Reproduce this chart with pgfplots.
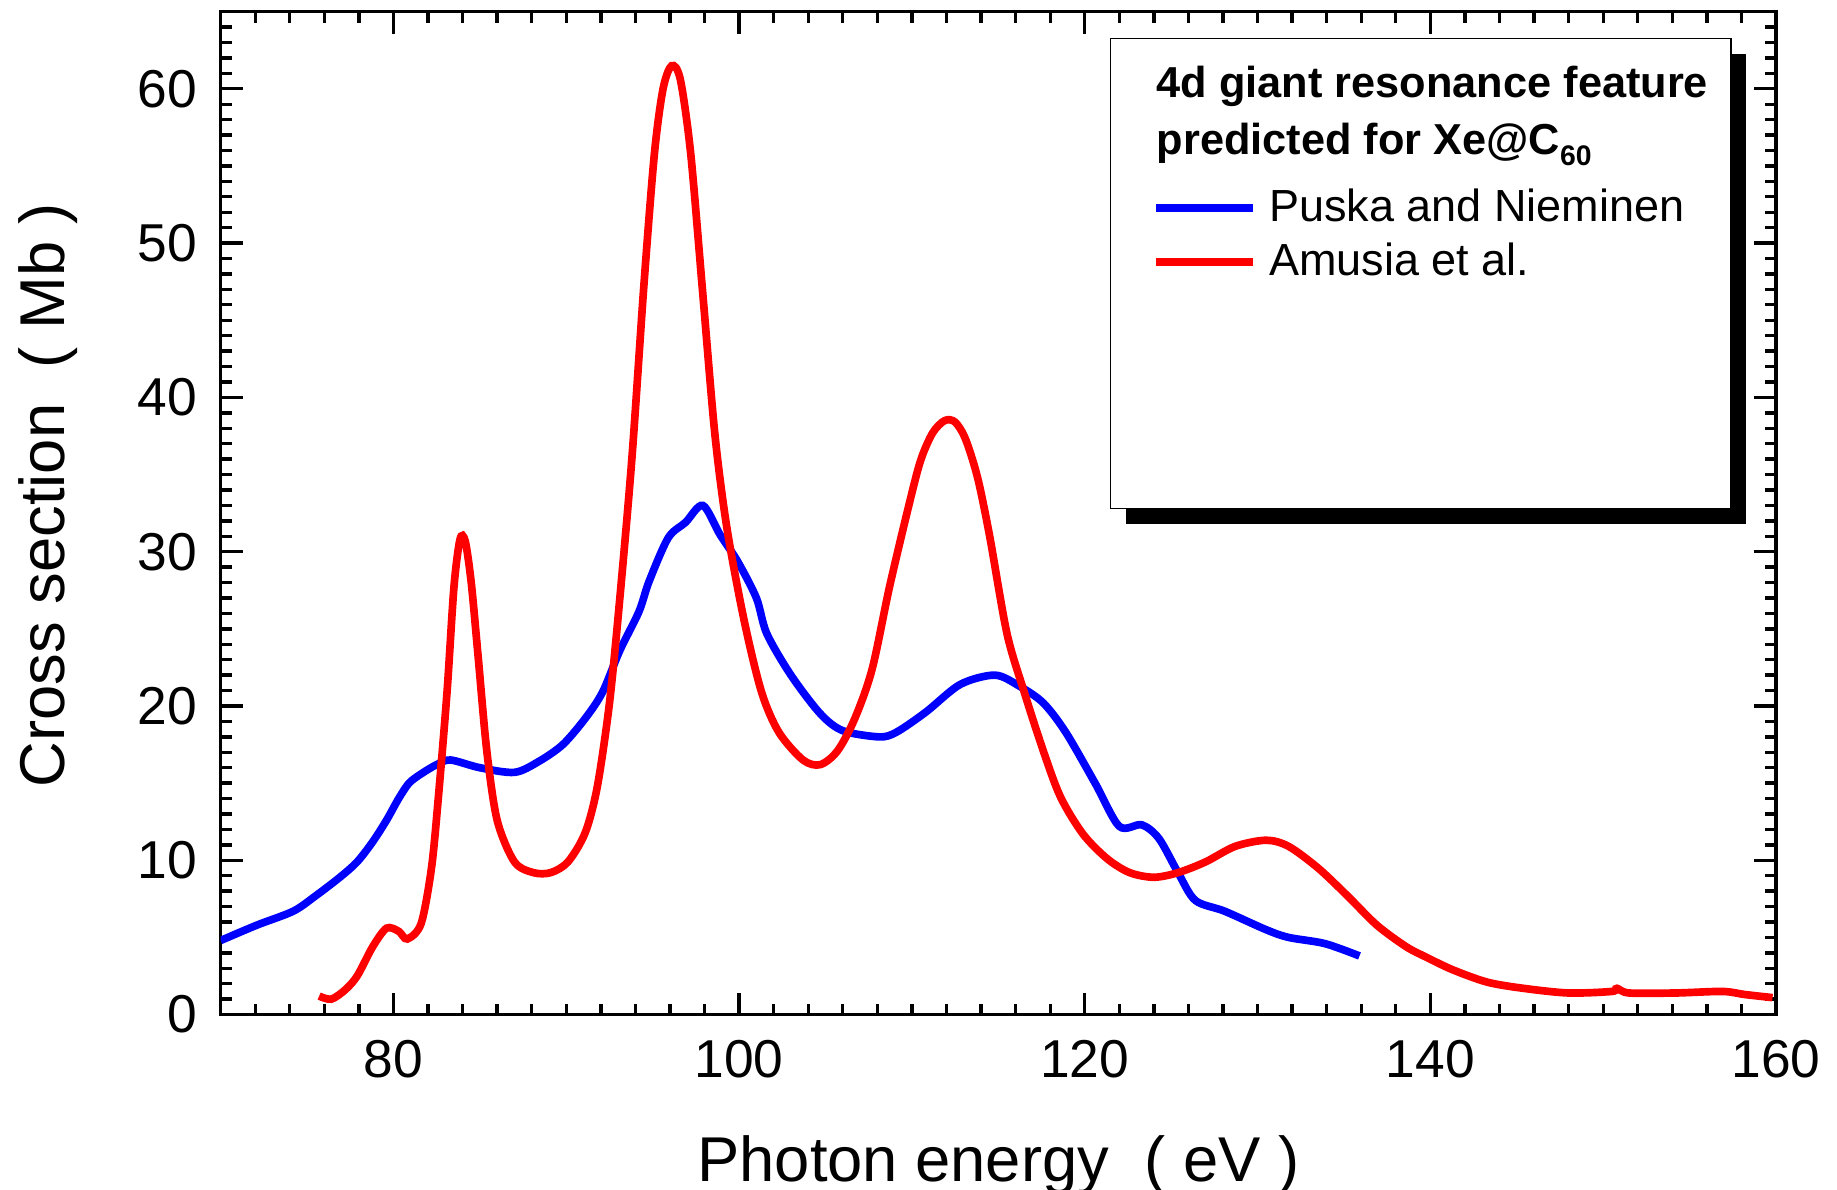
\documentclass[border=0pt]{standalone}
\usepackage{pgfplots}
\pgfplotsset{compat=1.18}
\usepackage{fontspec}
\setmainfont{Liberation Sans}
\definecolor{pblue}{RGB}{0,0,255}
\definecolor{pred}{RGB}{255,0,0}
\begin{document}
\begin{tikzpicture}
\begin{axis}[
  scale only axis,
  width=466.65pt, height=300.9pt,
  xmin=70, xmax=160, ymin=0, ymax=65,
  xtick={80,100,...,160},
  minor xtick={70,72,...,160},
  ytick={0,10,...,60},
  minor ytick={0,1,...,65},
  tick align=inside,
  major tick length=6.6pt,
  minor tick length=3.3pt,
  axis line style={line width=1pt},
  every tick/.style={black, line width=1pt},
  /pgf/number format/assume math mode=true,
  tick label style={font=\fontsize{16}{16}\selectfont},
  xticklabel shift=4.3pt,
  yticklabel shift=3.6pt,
  xlabel={Photon energy~~( eV )},
  ylabel={Cross section~~( Mb )},
  label style={font=\fontsize{19}{19}\selectfont},
  xlabel style={at={(axis description cs:0.5,0)}, anchor=base, yshift=-50pt, inner sep=0pt},
  ylabel style={at={(axis description cs:-0.1305,0.518)}, anchor=north, inner sep=0pt},
  legend image code/.code={\draw[#1] (0pt,0pt) -- (29pt,0pt);},
  legend style={draw=none, fill=none, inner sep=0pt, at={(0.5984,0.7774)}, anchor=west,
    row sep=5.0pt, column sep=3.9pt,
    nodes={inner sep=0pt, font=\fontsize{13.5}{13.5}\selectfont}},
  legend cell align=left,
]
% legend frame with shadow
\fill[black] ([xshift=4.5pt,yshift=-4.5pt]axis cs:121.5,63.26) rectangle ([xshift=4.5pt,yshift=-4.5pt]axis cs:157.4,32.8);
\draw[fill=white, line width=0.4pt] (axis cs:121.5,63.26) rectangle (axis cs:157.4,32.8);

\addplot[pblue, line width=2.3pt, smooth] coordinates {
(70,4.8) (72.1,5.8) (74.2,6.7) (75.5,7.7) (76.9,8.9) (77.9,9.9) (78.8,11.2)
(79.6,12.6) (80.3,14.0) (80.9,15.0) (81.6,15.6) (82.5,16.2) (83.3,16.5) (85.0,16.0) (87.0,15.7)
(88.4,16.4) (89.8,17.5) (91.1,19.2) (92.1,20.9) (93.1,23.6) (94.2,26.1)
(94.8,28.1) (95.9,30.9) (96.9,31.9) (97.9,33.0) (98.9,31.1) (99.9,29.4)
(101.0,27.0) (101.6,24.7) (103.0,22.0) (104.7,19.5) (106.0,18.4) (108.1,18.0)
(109.1,18.3) (110.8,19.6) (112.8,21.4) (114.8,22.0) (116.2,21.3) (117.6,20.2)
(118.9,18.3) (120.6,15.0) (122.0,12.2) (123.3,12.3) (124.3,11.4) (125.4,9.2)
(126.4,7.4) (128.1,6.7) (130.5,5.5) (131.8,5.0) (133.9,4.6) (135.9,3.8)
};
\addlegendentry{Puska and Nieminen}

\addplot[pred, line width=2.3pt, smooth] coordinates {
(75.7,1.2) (76.4,1.0) (77.2,1.6) (77.9,2.5) (78.8,4.4) (79.6,5.6) (80.3,5.4)
(80.8,4.9) (81.6,5.9) (82.2,9.5) (82.6,14.1) (83.1,20.9) (83.5,27.7)
(83.85,30.8) (84.15,30.7) (84.5,28.0) (84.9,23.2) (85.4,17.1) (86.0,12.6) (87.0,9.9)
(88.1,9.2) (89.1,9.2) (90.1,9.9) (91.1,11.8) (91.8,14.8) (92.5,20.2)
(93.1,27.0) (93.8,36.1) (94.5,47.4) (95.1,55.8) (95.6,60.0) (96.1,61.5)
(96.6,60.6) (97.2,55.8) (97.9,46.7) (98.6,37.6) (99.3,31.5) (100.3,25.5)
(101.3,20.9) (102.3,18.3) (103.7,16.5) (104.7,16.2) (105.7,17.1) (106.7,19.2)
(107.7,22.4) (108.7,27.7) (109.8,32.9) (110.5,35.9) (111.2,37.7) (111.9,38.5)
(112.5,38.4) (113.1,37.3) (113.8,34.8) (114.5,31.0) (115.5,24.7) (116.5,20.9) (117.6,17.1) (118.6,14.1)
(119.9,11.7) (121.3,10.1) (122.6,9.2) (124.0,8.9) (125.4,9.2) (127.0,9.9)
(128.7,10.9) (130.5,11.3) (131.8,10.9) (133.5,9.5) (135.2,7.7) (136.9,5.8)
(138.6,4.4) (139.8,3.7) (141.3,2.9) (143.3,2.1) (145.4,1.7) (148.0,1.4)
(150.5,1.5) (150.8,1.7) (151.5,1.4) (154.2,1.4) (156.9,1.5) (158.2,1.3) (159.8,1.1)
};
\addlegendentry{Amusia et al.}

\node[anchor=north west, inner sep=0pt, align=left,
  font=\fontsize{13}{16.9}\selectfont\bfseries]
  at (rel axis cs:0.6014,0.946)
  {4d giant resonance feature\\predicted for Xe@C\raisebox{-0.5ex}{\fontsize{8.5}{8.5}\selectfont 60}};
\end{axis}
\pgfresetboundingbox
\path[use as bounding box] ([xshift=-66.2pt,yshift=-52.6pt]current axis.south west) rectangle ([xshift=18.3pt,yshift=3.5pt]current axis.north east);
\end{tikzpicture}
\end{document}
